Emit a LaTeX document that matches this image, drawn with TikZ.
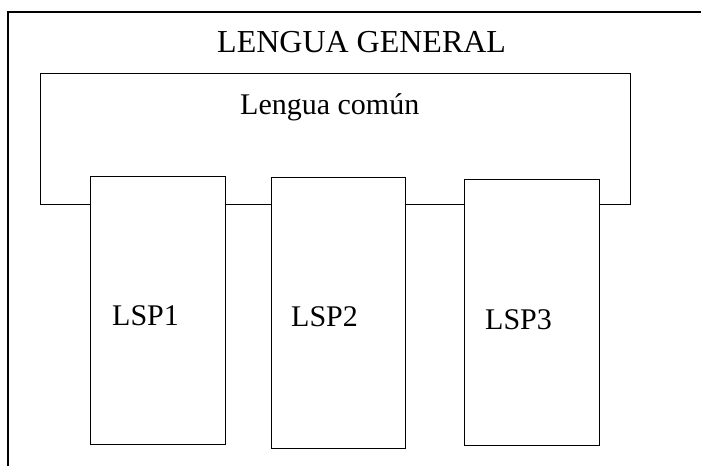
\documentclass[tikz,border=0pt]{standalone}
\usepackage{fontspec}
\setmainfont{Liberation Serif}
\begin{document}
\begin{tikzpicture}[x=1pt,y=-1pt,
  frameline/.style={line width=1.3pt,black},
  lspbox/.style={draw,line width=1.3pt,fill=white,rectangle,inner sep=0pt,anchor=north west},
  bigtxt/.style={inner sep=0pt,anchor=base west,font=\fontsize{32}{38}\selectfont},
  midtxt/.style={inner sep=0pt,anchor=base west,font=\fontsize{30}{36}\selectfont}]
\useasboundingbox (0,0) rectangle (701,466);
\coordinate (fbl) at (8,466);
\coordinate (ftl) at (8,12);
\coordinate (ftr) at (701,12);
\draw[frameline] (fbl) -- (ftl) -- (ftr);
\node[draw,frameline,rectangle,inner sep=0pt,anchor=north west,minimum width=590pt,minimum height=131pt] (comun) at (40,73) {};
\node[lspbox,minimum width=135pt,minimum height=268pt] (b1) at (90,176) {};
\node[lspbox,minimum width=134pt,minimum height=271pt] (b2) at (271,177) {};
\node[lspbox,minimum width=135pt,minimum height=266pt] (b3) at (464,179) {};
\node[bigtxt] (gen) at (217,52) {LENGUA GENERAL};
\node[midtxt] (com) at (240,114) {Lengua común};
\node[midtxt] (l1) at (112,325) {LSP1};
\node[midtxt] (l2) at (291,326) {LSP2};
\node[midtxt] (l3) at (485,329) {LSP3};
\end{tikzpicture}
\end{document}
